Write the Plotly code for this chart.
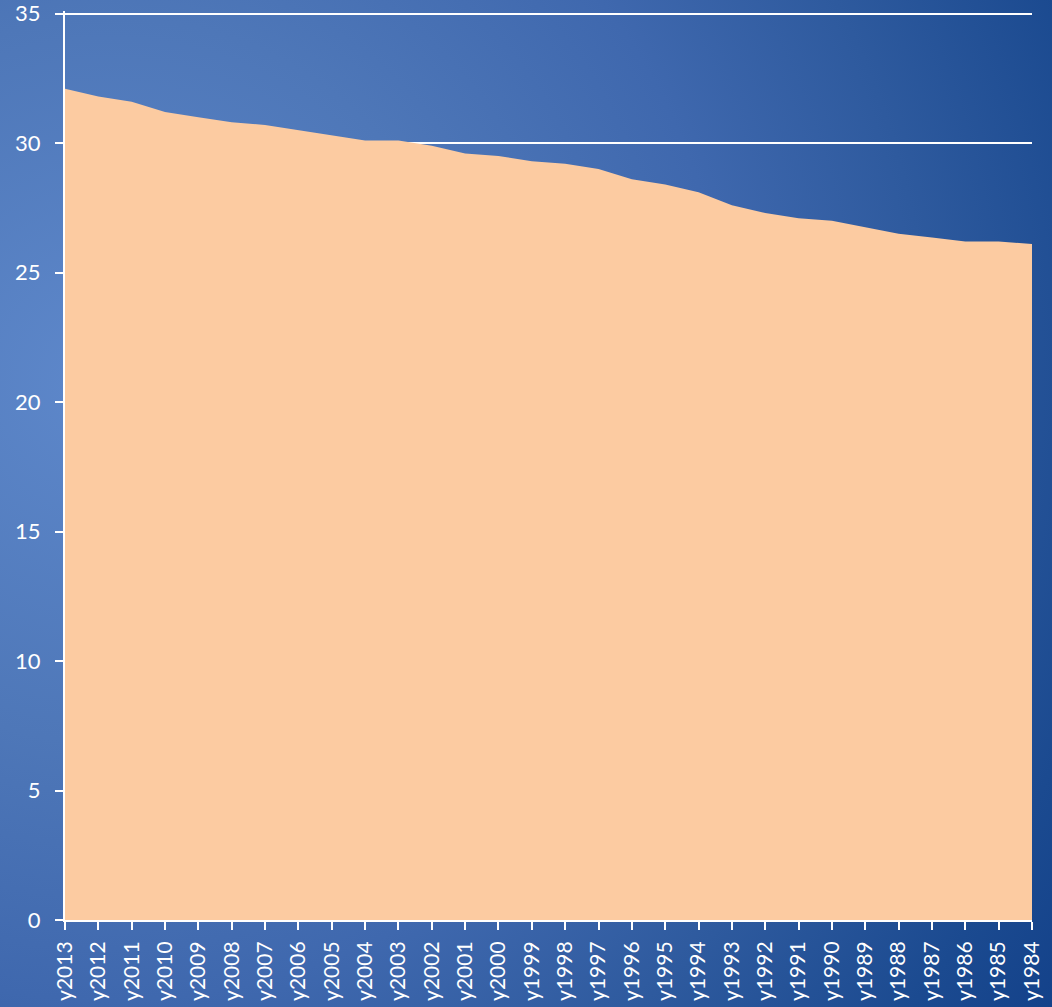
import base64
import plotly.graph_objects as go

years = ["y2013", "y2012", "y2011", "y2010", "y2009", "y2008", "y2007", "y2006", "y2005", "y2004",
         "y2003", "y2002", "y2001", "y2000", "y1999", "y1998", "y1997", "y1996", "y1995", "y1994",
         "y1993", "y1992", "y1991", "y1990", "y1989", "y1988", "y1987", "y1986", "y1985", "y1984"]
values = [32.1, 31.8, 31.6, 31.2, 31.0, 30.8, 30.7, 30.5, 30.3, 30.1,
          30.1, 29.9, 29.6, 29.5, 29.3, 29.2, 29.0, 28.6, 28.4, 28.1,
          27.6, 27.3, 27.1, 27.0, 26.75, 26.5, 26.35, 26.2, 26.2, 26.1]
y_ticks = [0, 5, 10, 15, 20, 25, 30, 35]

W, H = 1052, 1007
ML, MR, MT, MB = 65, 20, 11, 87
PW, PH = W - ML - MR, H - MT - MB

svg = f'''<svg xmlns="http://www.w3.org/2000/svg" width="{W}" height="{H}" viewBox="0 0 {W} {H}" preserveAspectRatio="none">
<defs><radialGradient id="g" gradientUnits="userSpaceOnUse" cx="110" cy="380" r="1170">
<stop offset="0" stop-color="#5E88CB"/>
<stop offset="0.31" stop-color="#4E77B8"/>
<stop offset="0.53" stop-color="#3F68AE"/>
<stop offset="0.70" stop-color="#2E5A9E"/>
<stop offset="0.87" stop-color="#1B4A90"/>
<stop offset="1" stop-color="#113F88"/>
</radialGradient></defs>
<rect x="0" y="0" width="{W}" height="{H}" fill="url(#g)"/></svg>'''
uri = "data:image/svg+xml;base64," + base64.b64encode(svg.encode()).decode()

fig = go.Figure()
fig.add_trace(go.Scatter(
    x=years, y=values, mode="lines", fill="tozeroy",
    line=dict(width=0, color="#FCCBA1"), fillcolor="#FCCBA1",
    hoverinfo="x+y", showlegend=False,
))

fig.add_layout_image(dict(
    source=uri, xref="paper", yref="paper",
    x=-ML / PW, y=1 + MT / PH, sizex=W / PW, sizey=H / PH,
    xanchor="left", yanchor="top", sizing="stretch", layer="below",
))

font = "Lato, 'Open Sans', sans-serif"
fig.update_layout(
    template="none",
    width=W, height=H,
    margin=dict(l=ML, r=MR, t=MT, b=MB, pad=0, autoexpand=False),
    paper_bgcolor="#2E5A9E", plot_bgcolor="rgba(0,0,0,0)",
    font=dict(family=font, color="white", size=22),
    showlegend=False,
)
fig.update_xaxes(
    type="category", range=[0, len(years) - 1], automargin=False,
    tickangle=-90, tickfont=dict(size=21, color="white", family=font),
    ticks="outside", ticklen=8, tickwidth=2, tickcolor="white",
    showline=True, linecolor="white", linewidth=2,
    showgrid=False, ticklabelstandoff=3, ticklabeloverflow="allow",
)
fig.update_yaxes(
    range=[0, 35.1], tickvals=y_ticks, automargin=False,
    tickfont=dict(size=22, color="white", family=font),
    ticks="outside", ticklen=8, tickwidth=2, tickcolor="white",
    showline=True, linecolor="white", linewidth=2,
    showgrid=True, gridcolor="white", gridwidth=1.5,
    zeroline=False, ticklabelstandoff=10, ticklabeloverflow="allow",
)

fig.write_html("out.html")
